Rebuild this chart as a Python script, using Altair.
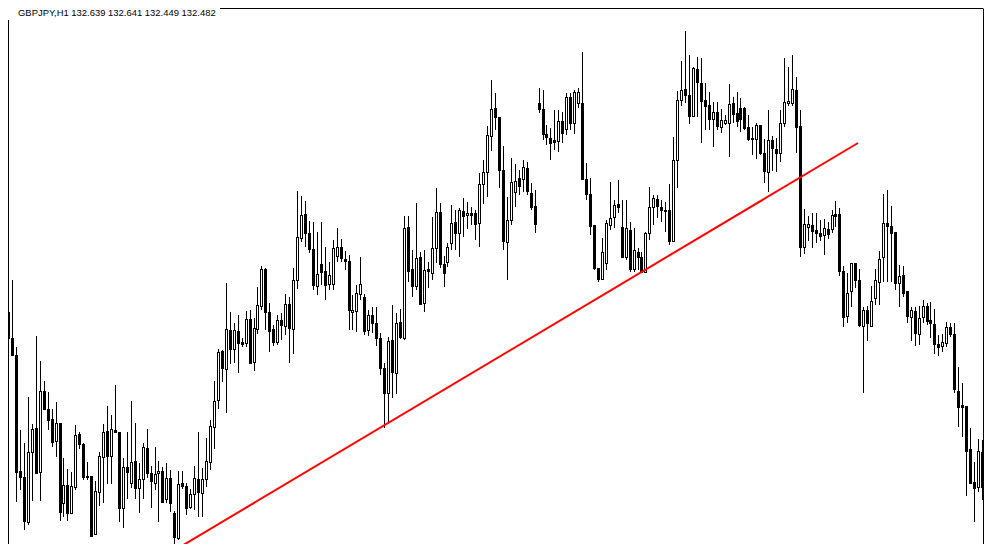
import altair as alt
import pandas as pd

label = "GBPJPY,H1  132.639 132.641 132.449 132.482"

open_ = [131.88, 131.62, 131.45, 130.29, 130.23, 129.78, 130.48, 130.72, 130.28, 131.09,
 130.91, 130.81, 130.59, 130.77, 129.97, 130.15, 129.87, 130.13, 130.66, 130.56,
 130.24, 130.24, 129.66, 130.08, 130.43, 130.69, 130.44, 130.70, 130.68, 129.92,
 130.33, 130.17, 130.39, 130.12, 130.21, 130.52, 130.27, 130.17, 130.27, 130.29,
 130.01, 130.22, 129.87, 129.62, 130.17, 130.14, 129.93, 130.06, 130.21, 130.07,
 130.21, 130.38, 130.73, 131.00, 131.49, 131.31, 131.70, 131.51, 131.69, 131.58,
 131.57, 131.81, 131.38, 131.71, 131.94, 132.31, 131.88, 131.71, 131.58, 131.80,
 131.74, 131.96, 131.71, 132.20, 132.62, 132.86, 132.67, 132.51, 132.14, 132.36,
 132.29, 132.16, 132.16, 132.44, 132.53, 132.41, 132.39, 131.88, 131.89, 132.06,
 132.03, 131.70, 131.85, 131.77, 131.62, 131.32, 131.07, 131.60, 131.27, 131.78,
 131.62, 132.73, 132.31, 132.14, 132.43, 131.97, 132.31, 132.27, 132.52, 132.88,
 132.36, 132.38, 132.57, 132.78, 132.67, 132.89, 132.85, 132.87, 132.87, 132.77,
 133.16, 133.28, 133.64, 133.92, 133.83, 133.30, 132.58, 132.80, 133.08, 133.22,
 133.21, 133.32, 133.07, 132.94, 133.97, 133.91, 133.66, 133.62, 133.60, 133.59,
 133.79, 133.71, 134.03, 133.77, 133.97, 133.97, 133.21, 133.06, 132.75, 132.32,
 132.21, 132.37, 132.75, 132.83, 132.96, 132.73, 132.43, 132.70, 132.31, 132.48,
 132.43, 132.28, 132.67, 132.93, 133.01, 132.93, 132.90, 132.90, 132.59, 133.40,
 134.00, 134.11, 134.05, 133.84, 134.31, 134.17, 134.00, 133.95, 133.81, 133.88,
 133.73, 133.77, 133.77, 133.97, 133.87, 133.92, 133.92, 133.73, 133.62, 133.61,
 133.75, 133.47, 133.28, 133.60, 133.51, 133.47, 133.77, 133.97, 133.97, 134.10,
 133.74, 132.53, 132.73, 132.75, 132.70, 132.67, 132.65, 132.71, 132.71, 132.86,
 132.86, 132.29, 131.84, 132.09, 132.37, 132.20, 131.74, 131.90, 131.74, 132.02,
 132.18, 132.43, 132.77, 132.74, 132.68, 132.17, 132.25, 132.09, 131.83, 131.89,
 131.66, 131.83, 131.94, 131.80, 131.76, 131.56, 131.54, 131.57, 131.73, 131.66,
 131.09, 130.95, 130.94, 130.51, 130.18, 130.13, 130.48]

high = [131.92, 132.20, 131.53, 130.70, 130.57, 131.03, 130.76, 131.64, 131.39, 131.19,
 131.08, 130.91, 130.98, 130.77, 130.42, 130.31, 130.28, 130.75, 130.68, 130.57,
 130.38, 130.24, 130.19, 130.48, 130.76, 130.94, 130.85, 131.15, 130.68, 130.42,
 130.68, 130.99, 130.77, 130.37, 130.57, 130.71, 130.34, 130.53, 130.39, 130.33,
 130.37, 130.30, 129.89, 130.29, 130.29, 130.17, 130.11, 130.34, 130.68, 130.32,
 130.62, 130.80, 131.19, 131.51, 131.50, 132.17, 131.88, 131.77, 131.85, 131.62,
 131.89, 131.90, 131.82, 132.13, 132.34, 132.32, 131.97, 131.75, 131.85, 131.87,
 132.06, 132.03, 132.32, 133.09, 133.04, 132.99, 132.79, 132.78, 132.68, 132.78,
 132.53, 132.38, 132.60, 132.72, 132.61, 132.49, 132.45, 132.05, 132.15, 132.43,
 132.06, 131.90, 131.93, 131.93, 131.67, 131.37, 131.63, 131.95, 131.87, 131.91,
 132.84, 132.84, 132.50, 132.97, 132.48, 132.50, 132.38, 132.83, 133.12, 132.97,
 132.44, 132.57, 132.95, 132.90, 132.92, 133.02, 132.98, 132.93, 132.90, 133.27,
 133.40, 133.74, 134.20, 134.07, 133.83, 133.54, 133.03, 133.42, 133.36, 133.30,
 133.40, 133.38, 133.17, 133.10, 134.12, 134.10, 133.75, 133.72, 133.90, 133.90,
 133.88, 134.07, 134.07, 134.10, 134.12, 134.48, 133.37, 133.22, 132.75, 132.32,
 132.62, 132.80, 133.18, 133.00, 133.20, 133.00, 133.00, 132.78, 132.72, 132.52,
 132.48, 132.68, 133.13, 133.05, 133.05, 133.00, 132.98, 133.16, 133.63, 134.09,
 134.39, 134.69, 134.45, 134.33, 134.43, 134.42, 134.17, 134.08, 133.98, 133.98,
 133.91, 133.85, 134.16, 134.03, 134.08, 134.02, 133.93, 133.85, 133.73, 133.77,
 133.75, 133.61, 133.90, 133.64, 133.62, 133.90, 134.42, 134.33, 134.45, 134.23,
 133.90, 132.91, 132.84, 132.87, 132.87, 132.80, 132.81, 132.78, 132.90, 132.99,
 132.92, 132.34, 132.27, 132.37, 132.37, 132.31, 131.93, 131.94, 132.14, 132.31,
 132.49, 133.06, 133.10, 132.94, 132.68, 132.35, 132.34, 132.09, 131.93, 131.93,
 131.94, 132.00, 131.97, 131.98, 131.91, 131.65, 131.66, 131.78, 131.77, 131.77,
 131.33, 131.17, 130.94, 130.72, 130.38, 130.61, 130.60]

low = [131.38, 131.44, 129.98, 130.10, 129.70, 129.75, 129.99, 130.27, 129.99, 130.91,
 130.70, 130.53, 130.43, 129.79, 129.83, 129.79, 129.86, 130.10, 130.51, 130.20,
 130.20, 129.64, 129.66, 129.94, 129.97, 130.16, 130.16, 130.68, 129.78, 129.72,
 130.01, 130.12, 130.01, 129.87, 130.01, 130.22, 129.92, 130.10, 129.78, 129.97,
 129.97, 129.88, 129.51, 129.60, 130.11, 129.85, 129.91, 129.90, 129.83, 129.83,
 130.13, 130.30, 130.51, 130.91, 131.18, 130.87, 131.36, 131.37, 131.27, 131.53,
 131.53, 131.37, 131.29, 131.66, 131.90, 131.70, 131.48, 131.54, 131.55, 131.60,
 131.65, 131.37, 131.46, 132.11, 132.58, 132.53, 132.47, 132.10, 132.05, 132.15,
 132.00, 132.10, 132.10, 132.38, 132.38, 132.30, 131.70, 131.70, 131.68, 132.00,
 131.65, 131.64, 131.67, 131.54, 131.25, 130.72, 130.78, 131.02, 131.06, 131.61,
 131.60, 132.18, 132.03, 132.10, 131.95, 131.88, 132.12, 132.20, 132.37, 132.32,
 132.13, 132.33, 132.50, 132.50, 132.43, 132.63, 132.71, 132.75, 132.60, 132.53,
 132.96, 133.03, 133.49, 133.70, 133.12, 132.50, 132.20, 132.75, 132.93, 133.05,
 133.08, 133.05, 132.90, 132.67, 133.87, 133.60, 133.55, 133.40, 133.50, 133.48,
 133.57, 133.65, 133.70, 133.66, 133.92, 133.20, 133.00, 132.65, 132.30, 132.18,
 132.20, 132.30, 132.70, 132.72, 132.87, 132.42, 132.40, 132.28, 132.28, 132.30,
 132.27, 132.28, 132.60, 132.75, 132.82, 132.78, 132.68, 132.55, 132.58, 133.12,
 133.94, 133.97, 133.76, 133.83, 133.83, 133.57, 133.70, 133.70, 133.53, 133.70,
 133.67, 133.75, 133.43, 133.77, 133.73, 133.68, 133.70, 133.59, 133.45, 133.41,
 133.45, 133.17, 133.08, 133.29, 133.28, 133.38, 133.73, 133.94, 133.94, 133.47,
 132.43, 132.46, 132.59, 132.52, 132.57, 132.59, 132.45, 132.61, 132.67, 132.73,
 132.24, 131.73, 131.77, 131.93, 132.12, 131.73, 131.07, 131.59, 131.74, 131.95,
 131.95, 132.18, 132.18, 132.18, 132.10, 131.93, 132.03, 131.77, 131.59, 131.54,
 131.55, 131.77, 131.75, 131.62, 131.46, 131.44, 131.48, 131.53, 131.63, 131.07,
 130.73, 130.63, 130.04, 130.16, 129.78, 130.08, 130.00]

close = [131.62, 131.45, 130.28, 130.23, 129.79, 130.48, 130.71, 130.27, 131.09, 130.91,
 130.80, 130.58, 130.77, 129.88, 130.15, 129.87, 130.14, 130.65, 130.56, 130.23,
 130.23, 129.64, 130.09, 130.44, 130.68, 130.44, 130.71, 130.68, 129.92, 130.33,
 130.28, 130.38, 130.12, 130.21, 130.53, 130.27, 130.19, 130.26, 130.29, 129.98,
 130.22, 129.97, 129.63, 130.16, 130.14, 129.92, 130.06, 130.22, 130.08, 130.21,
 130.39, 130.74, 130.99, 131.48, 131.32, 131.71, 131.51, 131.70, 131.57, 131.56,
 131.81, 131.37, 131.72, 131.95, 132.31, 131.88, 131.69, 131.58, 131.80, 131.75,
 131.96, 131.72, 132.20, 132.63, 132.85, 132.67, 132.51, 132.15, 132.26, 132.28,
 132.15, 132.25, 132.52, 132.53, 132.42, 132.39, 131.90, 131.90, 132.07, 132.16,
 131.69, 131.85, 131.77, 131.62, 131.32, 131.07, 131.59, 131.28, 131.77, 131.63,
 132.72, 132.29, 132.14, 132.42, 131.96, 132.30, 132.29, 132.52, 132.88, 132.36,
 132.27, 132.53, 132.77, 132.67, 132.90, 132.84, 132.87, 132.85, 132.76, 133.16,
 133.28, 133.65, 133.91, 133.83, 133.30, 132.59, 132.80, 133.18, 133.19, 133.14,
 133.33, 133.09, 132.93, 132.76, 133.91, 133.66, 133.63, 133.57, 133.58, 133.79,
 133.67, 134.03, 133.77, 134.08, 134.08, 133.21, 133.06, 132.74, 132.32, 132.21,
 132.48, 132.77, 132.82, 132.95, 132.93, 132.43, 132.72, 132.31, 132.50, 132.43,
 132.28, 132.67, 132.93, 133.02, 132.94, 132.90, 132.89, 132.59, 133.40, 134.00,
 134.10, 134.05, 133.84, 134.32, 134.18, 133.99, 133.94, 133.81, 133.88, 133.74,
 133.80, 133.80, 133.96, 133.86, 133.79, 133.81, 133.72, 133.61, 133.61, 133.75,
 133.47, 133.29, 133.60, 133.52, 133.47, 133.77, 133.98, 133.99, 134.11, 133.73,
 132.53, 132.76, 132.76, 132.69, 132.67, 132.64, 132.72, 132.66, 132.85, 132.84,
 132.29, 131.83, 132.07, 132.37, 132.20, 131.75, 131.90, 131.77, 131.99, 132.20,
 132.41, 132.77, 132.74, 132.67, 132.17, 132.24, 132.07, 131.84, 131.90, 131.67,
 131.82, 131.94, 131.79, 131.77, 131.56, 131.53, 131.58, 131.73, 131.66, 131.11,
 130.93, 130.93, 130.49, 130.17, 130.12, 130.49, 130.13]

# trend line anchor points (bar index, price)
trend_bar = [42.25, 214.75]
trend_price = [129.50, 133.57]

n = len(open_)
df = pd.DataFrame({"i": list(range(n)), "open": open_, "high": high,
                   "low": low, "close": close})
df["top"] = df[["open", "close"]].max(axis=1)
df["bot"] = df[["open", "close"]].min(axis=1)

W, H = 975, 536
xs = alt.Scale(domain=[1.25, 245.0], nice=False, zero=False, round=True)
ys = alt.Scale(domain=[129.56, 134.92], nice=False, zero=False, round=True)
yaxis = alt.Axis(orient="right", labels=False, grid=False, domain=True,
                 domainColor="black", domainWidth=1, ticks=False)

X = alt.X("i:Q", scale=xs, axis=None)

base = alt.Chart(df)

wicks = base.mark_rule(color="black", strokeWidth=1, xOffset=0.5).encode(
    x=X, y=alt.Y("high:Q", scale=ys, axis=yaxis, title=None), y2="low:Q")

bodies = base.mark_bar(color="black", size=3, xOffset=0.5, y2Offset=1).encode(
    x=X, y=alt.Y("top:Q", scale=ys, axis=yaxis, title=None), y2="bot:Q")

hollow = base.transform_filter("datum.close - datum.open > 0.015").mark_bar(
    color="white", size=1, xOffset=0.5, yOffset=1).encode(
    x=X, y=alt.Y("top:Q", scale=ys, axis=yaxis, title=None), y2="bot:Q")

tdf = pd.DataFrame({"x": [trend_bar[0]], "x2": [trend_bar[1]],
                    "y": [trend_price[0]], "y2": [trend_price[1]]})
trend = alt.Chart(tdf).mark_rule(color="#ff0000", strokeWidth=2).encode(
    x=alt.X("x:Q", scale=xs, axis=None), x2="x2:Q",
    y=alt.Y("y:Q", scale=ys, axis=yaxis, title=None), y2="y2:Q")

one = pd.DataFrame({"t": [label]})
frame_left = alt.Chart(one).mark_rule(color="black", strokeWidth=1).encode(x=alt.value(0.5))
frame_top = alt.Chart(one).mark_rule(color="black", strokeWidth=1).encode(y=alt.value(0.5))
label_bg = alt.Chart(one).mark_rect(color="white").encode(
    x=alt.value(0), x2=alt.value(212), y=alt.value(0), y2=alt.value(12))
label_txt = alt.Chart(one).mark_text(
    align="left", baseline="alphabetic", font="Liberation Sans", fontSize=9.45,
    color="black").encode(x=alt.value(10), y=alt.value(7.5), text="t:N")

chart = alt.layer(frame_left, frame_top, wicks, bodies, hollow, trend,
                  label_bg, label_txt).properties(
    width=W, height=H,
    padding={"left": 0, "top": 0, "right": 1, "bottom": 0},
    autosize=alt.AutoSizeParams(type="none"),
    background="white",
).configure_view(strokeWidth=0)

chart.save("out.html", embed_options={"renderer": "svg", "actions": False})
